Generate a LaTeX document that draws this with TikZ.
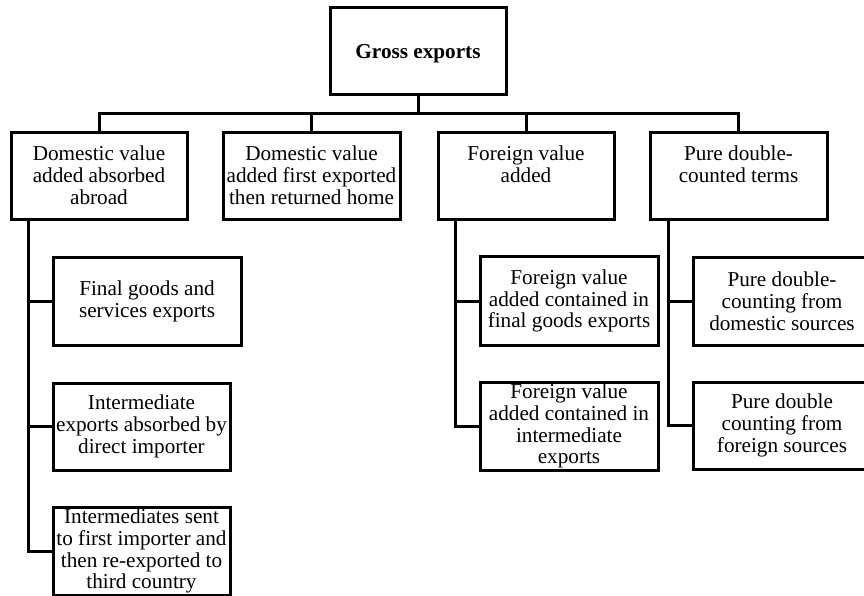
\documentclass[tikz,border=0pt]{standalone}
\usepackage{fontspec}
\setmainfont{Liberation Serif}
\begin{document}
\begin{tikzpicture}[x=0.75pt,y=-0.75pt,
  box/.style={draw,rectangle,line width=2.25pt,inner sep=0pt,align=center,
    font=\fontsize{15.9}{16.4}\selectfont},
  link/.style={line width=2.25pt}]
\useasboundingbox (0,0) rectangle (864,596);
\node[box,minimum width=176*0.75pt,minimum height=87*0.75pt,text height=16pt,text depth=3.5pt] (top) at (418,50.5) {\textbf{Gross exports}};
\node[box,minimum width=176*0.75pt,minimum height=87*0.75pt] (La) at (99,175.5) {Domestic value\\added absorbed\\abroad};
\node[box,minimum width=177*0.75pt,minimum height=87*0.75pt] (Lb) at (311.5,175.5) {Domestic value\\added first exported\\then returned home};
\node[box,minimum width=176*0.75pt,minimum height=87*0.75pt] (Lc) at (526,175.5) {Foreign value\\added\\\mbox{}};
\node[box,minimum width=177*0.75pt,minimum height=87*0.75pt] (Ld) at (738.5,175.5) {Pure double-\\counted terms\\\mbox{}};
\node[box,minimum width=188*0.75pt,minimum height=88*0.75pt] (D1) at (147,301) {Final goods and\\services exports};
\node[box,minimum width=177*0.75pt,minimum height=87*0.75pt] (D2) at (141.5,426.5) {Intermediate\\exports absorbed by\\direct importer};
\node[box,minimum width=177*0.75pt,minimum height=88*0.75pt] (D3) at (141.5,551) {Intermediates sent\\to first importer and\\then re-exported to\\third country};
\node[box,minimum width=178*0.75pt,minimum height=89*0.75pt] (F1) at (569,301) {Foreign value\\added contained in\\final goods exports};
\node[box,minimum width=178*0.75pt,minimum height=88*0.75pt] (F2) at (569,426) {Foreign value\\added contained in\\intermediate\\exports};
\node[box,minimum width=178*0.75pt,minimum height=88*0.75pt] (P1) at (782,301) {Pure double-\\counting from\\domestic sources};
\node[box,minimum width=178*0.75pt,minimum height=87*0.75pt] (P2) at (782,425.5) {Pure double\\counting from\\foreign sources};
\coordinate (bar) at (0,113);
\coordinate (spA) at (28,0);
\coordinate (spC) at (455,0);
\coordinate (spD) at (668,0);
\draw[link] (top.south) -- (top.south |- bar);
\draw[link] (La.north) |- (Ld.north |- bar) -- (Ld.north);
\draw[link] (Lb.north) -- (Lb.north |- bar);
\draw[link] (Lc.north) -- (Lc.north |- bar);
\draw[link] (spA |- La.south) |- (D3.west);
\draw[link] (spA |- D1.west) -- (D1.west);
\draw[link] (spA |- D2.west) -- (D2.west);
\draw[link] (spC |- Lc.south) |- (F2.west);
\draw[link] (spC |- F1.west) -- (F1.west);
\draw[link] (spD |- Ld.south) |- (P2.west);
\draw[link] (spD |- P1.west) -- (P1.west);
\end{tikzpicture}
\end{document}
